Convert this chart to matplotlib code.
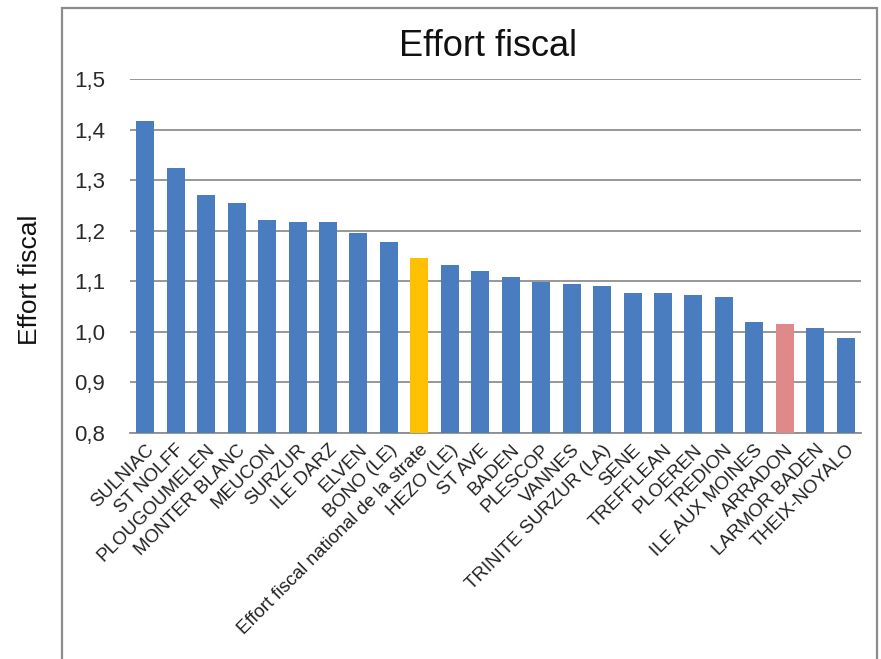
import matplotlib
matplotlib.use("Agg")
import matplotlib.pyplot as plt
from matplotlib.patches import Rectangle

categories = ["SULNIAC", "ST NOLFF", "PLOUGOUMELEN", "MONTER BLANC", "MEUCON",
              "SURZUR", "ILE DARZ", "ELVEN", "BONO (LE)",
              "Effort fiscal national de la strate", "HEZO (LE)", "ST AVE",
              "BADEN", "PLESCOP", "VANNES", "TRINITE SURZUR (LA)", "SENE",
              "TREFFLEAN", "PLOEREN", "TREDION", "ILE AUX MOINES", "ARRADON",
              "LARMOR BADEN", "THEIX-NOYALO"]
values = [1.417, 1.325, 1.271, 1.255, 1.221, 1.218, 1.218, 1.196, 1.178,
          1.147, 1.132, 1.121, 1.108, 1.099, 1.094, 1.091, 1.077, 1.077,
          1.073, 1.069, 1.019, 1.016, 1.008, 0.987]
y_ticks = [0.8, 0.9, 1.0, 1.1, 1.2, 1.3, 1.4, 1.5]
y_tick_labels = ["0,8", "0,9", "1,0", "1,1", "1,2", "1,3", "1,4", "1,5"]

blue = "#4a7dbf"
highlight = {"Effort fiscal national de la strate": "#ffc000",
             "ARRADON": "#e0898a"}
colors = [highlight.get(c, blue) for c in categories]

plt.rcParams['font.family'] = ['Liberation Sans', 'DejaVu Sans']

fig = plt.figure(figsize=(8.81, 6.59), dpi=100)
# chart frame
fig.patches.append(Rectangle((62 / 881, -0.05), (877 - 62) / 881, 1.05 - 8 / 659,
                             transform=fig.transFigure, fill=False,
                             edgecolor="#8c8c8c", linewidth=1.6))

ax = fig.add_axes([130 / 881, 1 - 433 / 659, (861 - 130) / 881, (433 - 79) / 659])
x = list(range(len(categories)))
ax.bar(x, values, width=0.59, color=colors, zorder=3)
ax.set_xlim(-0.5, len(categories) - 0.5)
ax.set_ylim(0.8, 1.5)
ax.set_yticks(y_ticks)
ax.set_yticklabels(y_tick_labels, fontsize=16, color="#2a2a2a")
ax.yaxis.grid(True, color="#8f8f8f", linewidth=1.3, zorder=0)
ax.set_axisbelow(True)
for s in ["top", "right", "left"]:
    ax.spines[s].set_visible(False)
ax.spines["bottom"].set_color("#8f8f8f")
ax.spines["bottom"].set_linewidth(1.3)
ax.tick_params(axis="y", length=0, pad=18)
ax.tick_params(axis="x", length=0, pad=6)
ax.set_xticks(x)
ax.set_xticklabels(categories, rotation=45, ha="right", va="top",
                   rotation_mode="anchor", fontsize=13.5, color="#222222")

fig.text(488 / 881, 1 - 47 / 659, "Effort fiscal", ha="center", va="center",
         fontsize=26, color="#111111")
fig.text(30 / 881, 1 - 280 / 659, "Effort fiscal", ha="center", va="center",
         rotation=90, fontsize=19, color="#111111")

fig.savefig("out.png", dpi=100)
